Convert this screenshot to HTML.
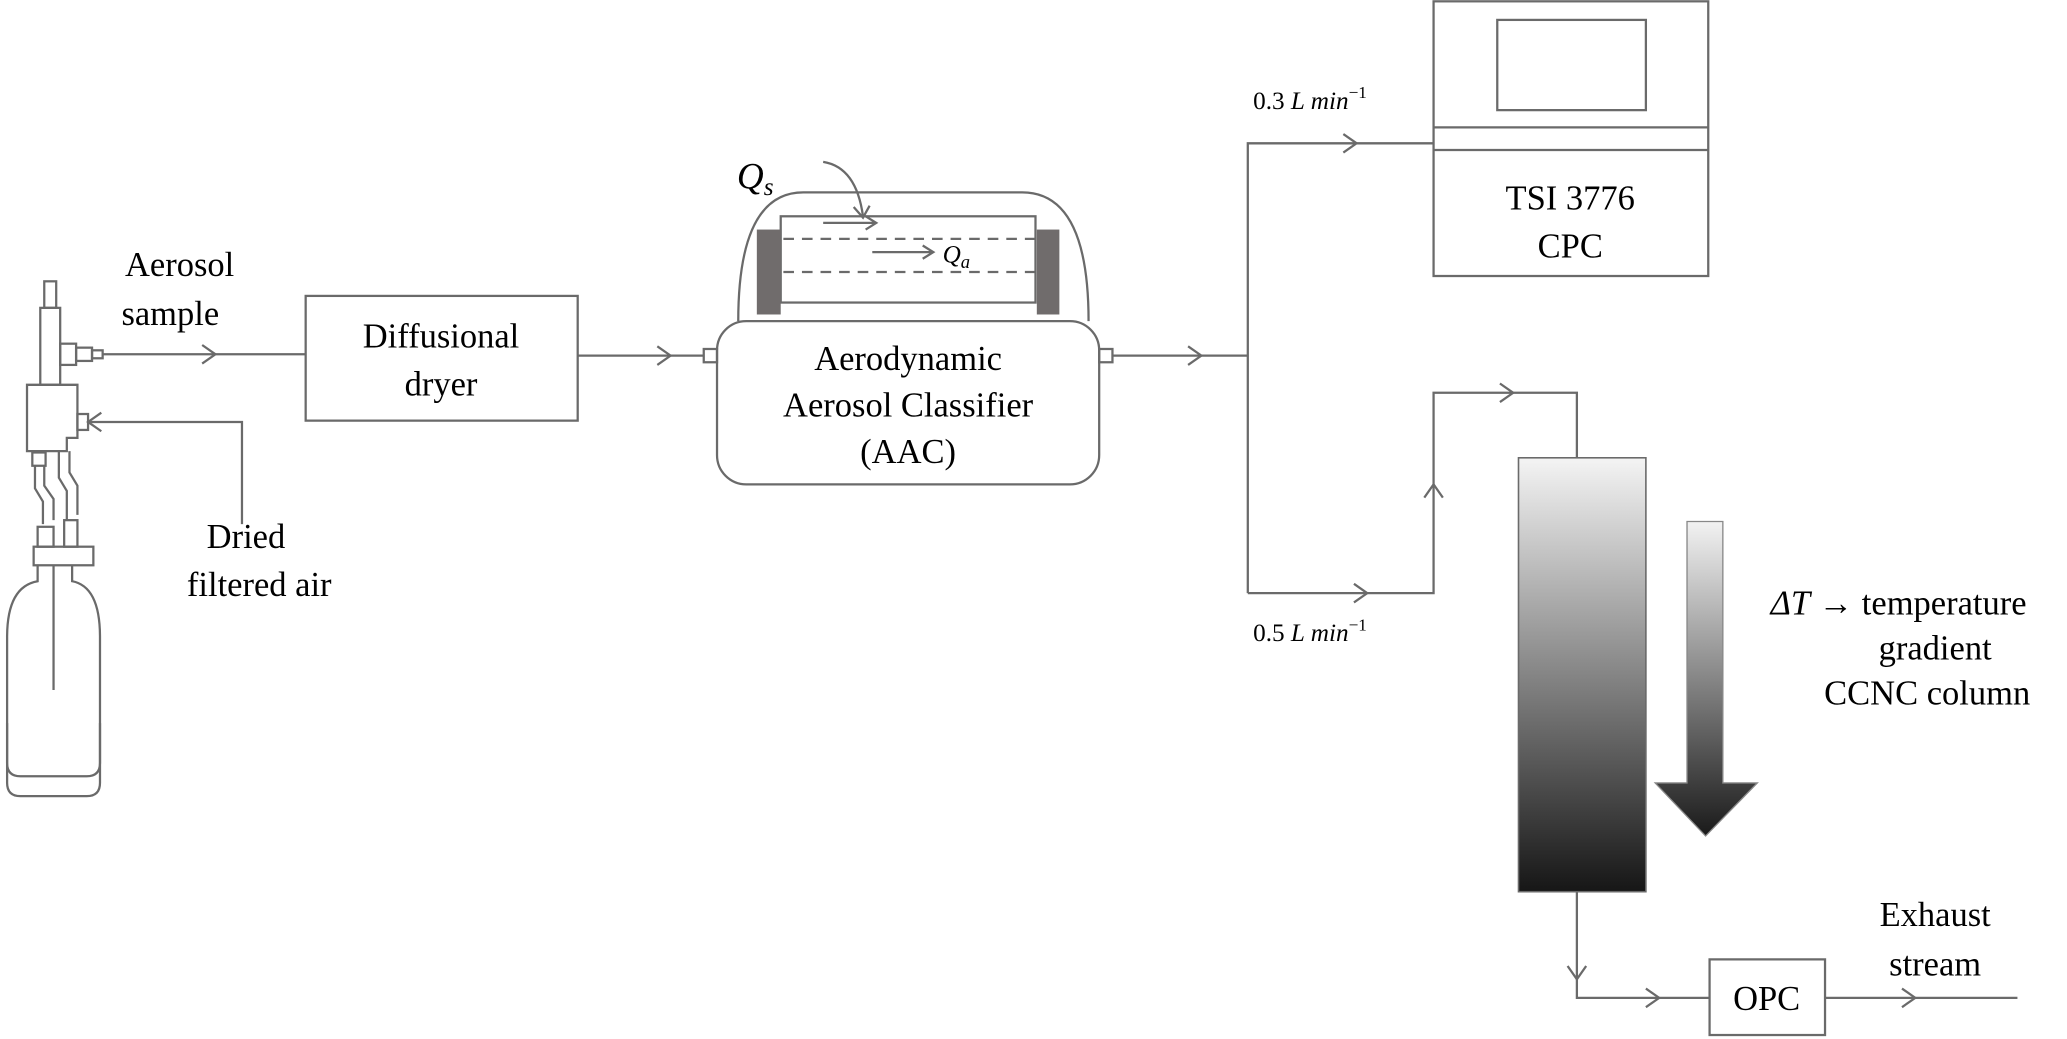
<!DOCTYPE html>
<html><head><meta charset="utf-8"><style>
html,body{margin:0;padding:0;background:#fff;}
svg{display:block;}
text{font-family:"Liberation Serif",serif;fill:#000;}
</style></head><body>
<svg width="2067" height="1039" viewBox="0 0 1557 783" xmlns="http://www.w3.org/2000/svg">
<defs>
<linearGradient id="col" x1="0" y1="0" x2="0" y2="1"><stop offset="0" stop-color="#f4f4f4"/><stop offset="1" stop-color="#161616"/></linearGradient>
<linearGradient id="arr" x1="0" y1="0" x2="0" y2="1"><stop offset="0" stop-color="#f2f2f2"/><stop offset="1" stop-color="#1a1a1a"/></linearGradient>
</defs>
<g fill="none" stroke="#6a6a6a" stroke-width="1.7">
<rect x="33" y="212" width="9" height="20"/>
<rect x="30" y="232" width="15" height="58"/>
<rect x="45" y="259" width="12" height="16"/><rect x="57" y="262" width="12" height="10"/><rect x="69" y="264" width="8" height="6"/>
<path d="M27 290 H58 V330 H50 V340 H20 V290 H27"/>
<rect x="58" y="312" width="8" height="12"/>
<rect x="24" y="341" width="10" height="10"/>
<path d="M26 351 V368 L32 378 V395 M33 351 V366 L40 376 V392 M44 340 V360 L50 370 V392 M52 340 V356 L58 366 V388"/>
<rect x="28" y="397" width="12" height="15"/><rect x="48" y="392" width="10" height="20"/>
<rect x="25" y="412" width="45" height="14"/>
<path d="M28 426 V438 Q5 442 5 480 V590 Q5 600 15 600 H65 Q75 600 75 590 V480 Q75 442 54 438 V426"/>
<path d="M40 426 V520"/>
<path d="M5 545 V575 Q5 585 15 585 H65 Q75 585 75 575 V545"/>
<path d="M77 267 H230"/><path d="M152 260 L162 267 L152 274"/>
<path d="M182 395 V318 H66"/><path d="M76 311 L66 318 L76 325"/>
<rect x="230" y="223" width="205" height="94"/>
<path d="M435 268 H530"/><path d="M495 261 L505 268 L495 275"/>
<rect x="530" y="263" width="10" height="10"/>
<rect x="540" y="242" width="288" height="123" rx="22"/>
<path d="M556 242 Q556 145 605 145 H770 Q820 145 820 242"/>
<rect x="588" y="163" width="192" height="65"/>
<path d="M590 180 H780 M590 205 H780" stroke-dasharray="8 6"/>
<path d="M620 168 H660 M652 163 L660 168 L652 173"/>
<path d="M657 190 H703 M695 185 L703 190 L695 195"/>
<path d="M620 122 Q645 126 650 163"/><path d="M643 156 L650 164 L655 155"/>
<rect x="828" y="263" width="10" height="10"/>
<path d="M838 268 H940"/><path d="M895 261 L905 268 L895 275"/>
<path d="M940 447 V108 H1080"/><path d="M1012 101 L1022 108 L1012 115"/>
<rect x="1080" y="1" width="207" height="207"/>
<rect x="1128" y="15" width="112" height="68"/>
<path d="M1080 96 H1287 M1080 113 H1287"/>
<path d="M940 447 H1080 V296 H1188 V345"/><path d="M1020 440 L1030 447 L1020 454"/>
<path d="M1073 375 L1080 365 L1087 375"/><path d="M1130 289 L1140 296 L1130 303"/>
<path d="M1188 672 V752 H1288"/><path d="M1181 728 L1188 738 L1195 728"/><path d="M1240 745 L1250 752 L1240 759"/>
<rect x="1288" y="723" width="87" height="57"/>
<path d="M1375 752 H1520"/><path d="M1433 745 L1443 752 L1433 759"/>
</g>
<g fill="#706c6c"><rect x="570" y="173" width="18" height="64"/><rect x="781" y="173" width="17" height="64"/></g>
<rect x="1144" y="345" width="96" height="327" fill="url(#col)" stroke="#6a6a6a" stroke-width="1.2"/>
<path d="M1271 393 H1298 V590 H1324 L1285 630 L1247 590 H1271 Z" fill="url(#arr)" stroke="#888" stroke-width="1"/>
<g font-size="26" text-anchor="middle">
<text x="135" y="208">Aerosol</text><text x="128" y="245">sample</text>
<text x="185" y="413">Dried</text><text x="195" y="449">filtered  air</text>
<text x="332" y="262">Diffusional</text><text x="332" y="298">dryer</text>
<text x="684" y="279">Aerodynamic</text><text x="684" y="314">Aerosol Classifier</text><text x="684" y="349">(AAC)</text>
<text x="1183" y="158">TSI 3776</text><text x="1183" y="194">CPC</text>
<text x="1331" y="761">OPC</text>
<text x="1458" y="698">Exhaust</text><text x="1458" y="735">stream</text>
<text x="1458" y="497">gradient</text>
<text x="1452" y="531">CCNC column</text>
</g>
<text x="1334" y="463" font-size="26"><tspan font-style="italic">ΔT</tspan> → temperature</text>
<text x="555" y="142" font-size="28" font-style="italic">Q<tspan font-size="19" dy="5">s</tspan></text>
<text x="710" y="198" font-size="19" font-style="italic">Q<tspan font-size="14" dy="4">a</tspan></text>
<text x="944" y="82" font-size="19">0.3 <tspan font-style="italic">L min</tspan><tspan font-size="13" dy="-8">−1</tspan></text>
<text x="944" y="483" font-size="19">0.5 <tspan font-style="italic">L min</tspan><tspan font-size="13" dy="-8">−1</tspan></text>
</svg>
</body></html>
